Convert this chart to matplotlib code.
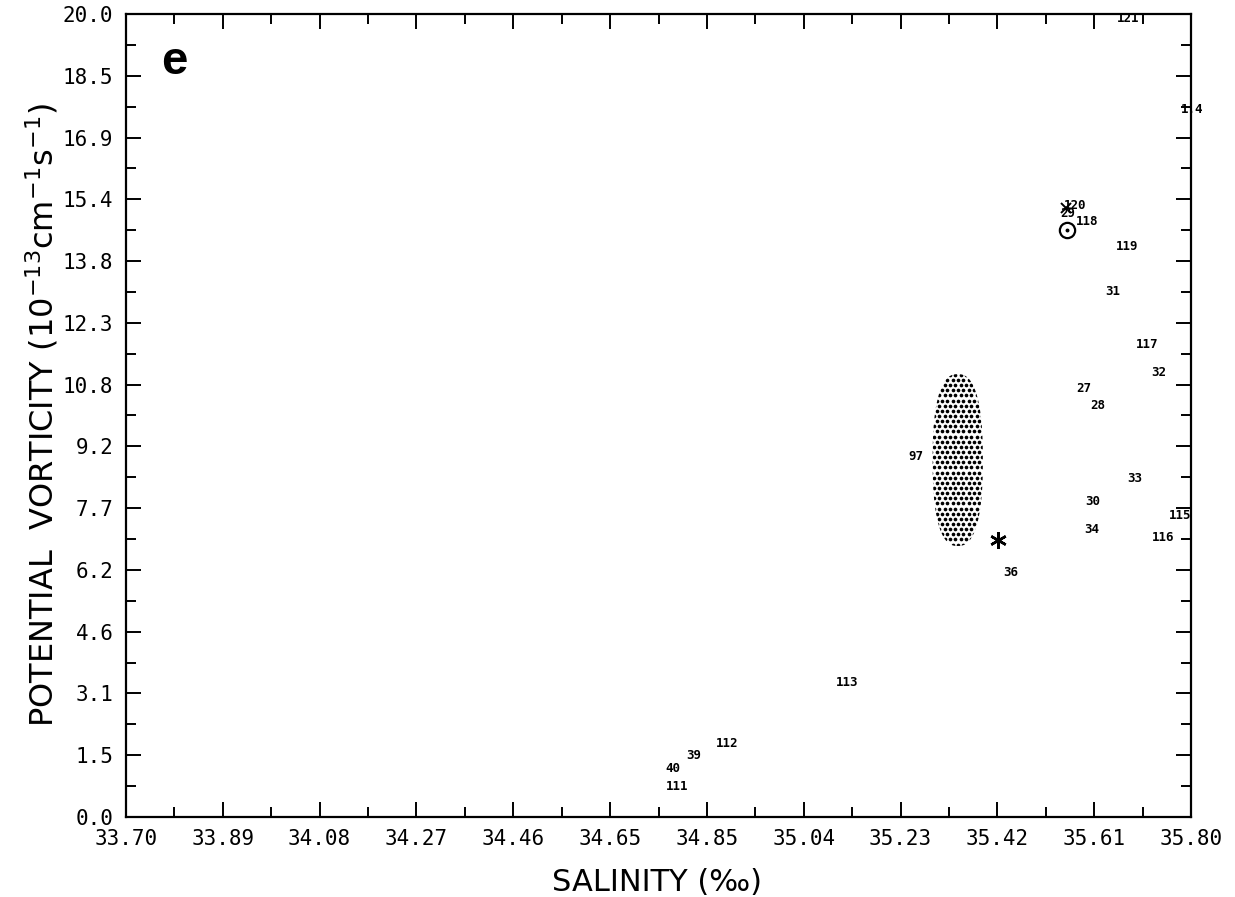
import numpy as np
import matplotlib
matplotlib.use("Agg")
import matplotlib.pyplot as plt
from matplotlib.patches import Polygon
from matplotlib.ticker import FixedLocator

# axis ticks
x_ticks = np.linspace(33.70, 35.80, 12)
x_labels = ['33.70', '33.89', '34.08', '34.27', '34.46', '34.65',
            '34.85', '35.04', '35.23', '35.42', '35.61', '35.80']
y_ticks = np.linspace(0.0, 20.0, 14)
y_labels = ['0.0', '1.5', '3.1', '4.6', '6.2', '7.7', '9.2',
            '10.8', '12.3', '13.8', '15.4', '16.9', '18.5', '20.0']

# station labels (salinity, potential vorticity)
stations = ['121', '1.4', '120', '29', '118', '119', '31', '117', '32',
            '27', '28', '97', '33', '30', '115', '34', '116', '36',
            '113', '112', '39', '40', '111']
sal = [35.676, 35.803, 35.571, 35.557, 35.595, 35.674, 35.646, 35.713, 35.737,
       35.589, 35.617, 35.258, 35.690, 35.607, 35.778, 35.605, 35.745, 35.445,
       35.122, 34.885, 34.820, 34.779, 34.787]
pv = [19.90, 17.63, 15.24, 15.02, 14.82, 14.22, 13.08, 11.78, 11.08,
      10.68, 10.24, 8.97, 8.44, 7.87, 7.50, 7.17, 6.97, 6.08,
      3.34, 1.84, 1.54, 1.22, 0.77]

# special symbols
circle_pt = (35.556, 14.62)
star_pt = (35.420, 6.90)
cross_pt = (35.554, 15.18)

# stippled region (centre, width, height)
blob_center = (35.340, 8.89)
blob_w = 0.099
blob_h = 4.28

fig = plt.figure(figsize=(12.35, 8.97), dpi=100)
ax = fig.add_axes([0.102, 0.0892, 0.8624, 0.8952])
ax.set_xlim(33.70, 35.80)
ax.set_ylim(0.0, 20.0)

for s in ax.spines.values():
    s.set_linewidth(1.6)

ax.xaxis.set_major_locator(FixedLocator(x_ticks))
ax.xaxis.set_minor_locator(FixedLocator((x_ticks[:-1] + x_ticks[1:]) / 2))
ax.yaxis.set_major_locator(FixedLocator(y_ticks))
ax.yaxis.set_minor_locator(FixedLocator((y_ticks[:-1] + y_ticks[1:]) / 2))
ax.set_xticklabels(x_labels, family='DejaVu Sans Mono', fontsize=15)
ax.set_yticklabels(y_labels, family='DejaVu Sans Mono', fontsize=15)
ax.tick_params(which='both', direction='in', top=True, right=True, width=1.4)
ax.tick_params(which='major', length=11)
ax.tick_params(which='minor', length=7.5)
ax.tick_params(axis='x', which='major', pad=9)
ax.tick_params(axis='y', which='major', pad=9)

# stippled blob: rounded, slightly squared-off ellipse outline
t = np.linspace(0, 2 * np.pi, 200)
ex = blob_center[0] + blob_w / 2 * np.sign(np.cos(t)) * np.abs(np.cos(t)) ** 0.8
ey = blob_center[1] + blob_h / 2 * np.sign(np.sin(t)) * np.abs(np.sin(t)) ** 0.8
blob = Polygon(np.column_stack([ex, ey]), closed=True, facecolor='none', edgecolor='none')
ax.add_patch(blob)
gx = np.arange(blob_center[0] - blob_w, blob_center[0] + blob_w, 0.0105)
gy = np.arange(blob_center[1] - blob_h, blob_center[1] + blob_h, 0.128)
px, py = [], []
for j, yy in enumerate(gy):
    off = 0.00525 if j % 2 else 0.0
    for xx in gx:
        px.append(xx + off)
        py.append(yy)
dots = ax.scatter(px, py, s=7, c='black', linewidths=0)
dots.set_clip_path(blob)

# symbols
ax.plot(*circle_pt, marker='o', ms=11, mfc='none', mec='black', mew=1.6)
ax.plot(*circle_pt, marker='o', ms=1.8, color='black')
ax.plot(*star_pt, marker=(6, 2, 0), ms=12, color='black', mew=1.8)
ax.plot(*cross_pt, marker='x', ms=7, color='black', mew=1.4)

# station numbers
for name, xv, yv in zip(stations, sal, pv):
    ax.text(xv, yv, name, ha='center', va='center', fontsize=9,
            family='DejaVu Sans Mono', fontweight='bold', clip_on=False)

ax.text(0.045, 0.94, 'e', transform=ax.transAxes, fontsize=34,
        fontweight='bold', family='Liberation Sans', ha='center', va='center')

ax.text(-0.079, 0.5, r'POTENTIAL  VORTICITY (10$^{\mathsf{-13}}$cm$^{\mathsf{-1}}$s$^{\mathsf{-1}}$)',
        transform=ax.transAxes, rotation=90, ha='center', va='center',
        fontsize=23, family='DejaVu Sans')
ax.text(0.4986, -0.082, 'SALINITY (‰)', transform=ax.transAxes,
        ha='center', va='center', fontsize=22, family='DejaVu Sans')

fig.savefig('out.png', dpi=100)
